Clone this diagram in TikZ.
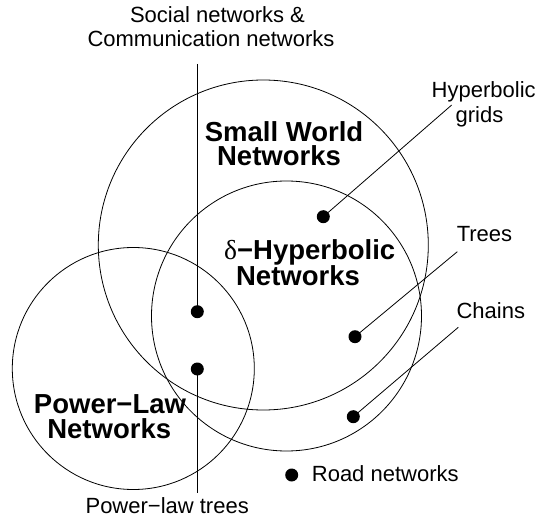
\documentclass[tikz,border=0pt]{standalone}
\usepackage{fontspec}
\setmainfont{Liberation Sans}
\newfontfamily\serifdelta{Liberation Serif}
\begin{document}
\begin{tikzpicture}[x=1pt,y=-1pt,
  ring/.style={line width=0.8pt},
  conn/.style={line width=0.8pt},
  dot/.style={circle,fill=black,inner sep=0pt,minimum size=13pt},
  lbl/.style={anchor=base,inner sep=0pt,font=\fontsize{22}{25}\selectfont},
  big/.style={anchor=base,inner sep=0pt,font=\fontsize{27.5}{30}\selectfont\bfseries}]
\useasboundingbox (0,0) rectangle (539,516);
% circles
\draw[ring] (263.3,245) circle[radius=165pt];
\draw[ring] (286.5,316) circle[radius=135pt];
\draw[ring] (133.3,368.5) circle[radius=121pt];
% labels
\node[lbl] (soc1) at (217.5,23) {Social networks \&};
\node[lbl] (soc2) at (211,46.7) {Communication networks};
\node[big] (sw1) at (284,141.7) {Small World};
\node[big] (sw2) at (279,166) {Networks};
\node[big] (hy1) at (309.7,260) {{\serifdelta\mdseries δ}−Hyperbolic};
\node[big] (hy2) at (298,285.5) {Networks};
\node[big] (pl1) at (110,413.3) {Power−Law};
\node[big] (pl2) at (109.2,438.3) {Networks};
\node[lbl] (hg1) at (483.7,97.7) {Hyperbolic};
\node[lbl] (hg2) at (479.5,122.7) {grids};
\node[lbl] (tr) at (484.5,241.7) {Trees};
\node[lbl] (ch) at (490.8,318.3) {Chains};
\node[lbl,anchor=base west] (rd) at (311.7,481.7) {Road networks};
\node[lbl] (plt) at (167.2,513.3) {Power−law trees};
% dots
\node[dot] (dsoc) at (197.3,311.7) {};
\node[dot] (dplt) at (197.3,369) {};
\node[dot] (dhg) at (323.3,216.7) {};
\node[dot] (dtr) at (355,336.7) {};
\node[dot] (dch) at (353.3,416.7) {};
\node[dot] (drd) at (291.7,475) {};
% connector ends
\coordinate (esoc) at (197.3,64);
\coordinate (eplt) at (197.3,493);
\coordinate (ehg) at (451.7,105);
\coordinate (etr) at (457.3,251.7);
\coordinate (ech) at (458.3,327.3);
% connectors
\draw[conn] (esoc) -- (dsoc.center);
\draw[conn] (dplt.center) -- (eplt);
\draw[conn] (dhg.center) -- (ehg);
\draw[conn] (dtr.center) -- (etr);
\draw[conn] (dch.center) -- (ech);
\end{tikzpicture}
\end{document}
